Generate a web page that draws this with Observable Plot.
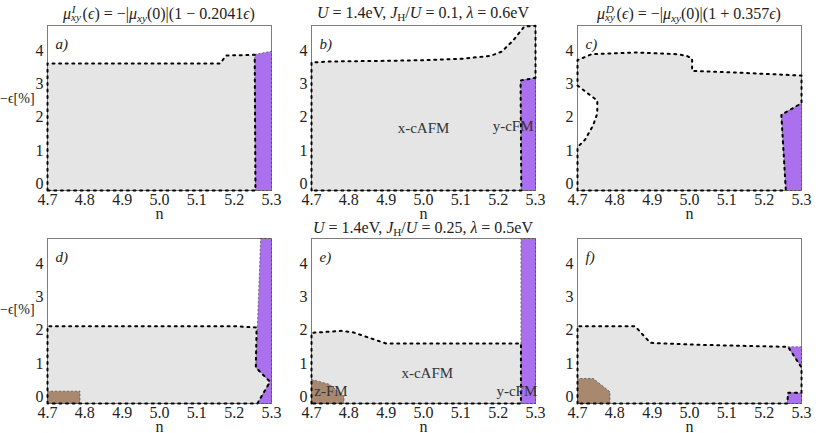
<!DOCTYPE html>
<html><head><meta charset="utf-8">
<script src="https://cdn.jsdelivr.net/npm/d3@7"></script>
<script src="https://cdn.jsdelivr.net/npm/@observablehq/plot@0.6"></script>
<style>
body{margin:0;background:#fff;}
#chart{position:relative;width:830px;height:433px;overflow:hidden;font-family:"Liberation Serif",serif;color:#222;}
.panel{position:absolute;}
.title{position:absolute;font-size:16px;white-space:nowrap;transform:translateX(-50%);line-height:1;}
.ss{display:inline-block;position:relative;width:0.72em;height:0.7em;}
.ss .up{position:absolute;left:0.05em;top:-0.38em;font-size:0.7em;line-height:1;font-style:italic;}
.ss .dn{position:absolute;left:0;top:0.36em;font-size:0.7em;line-height:1;font-style:italic;}
.sb{font-size:0.7em;vertical-align:-0.3em;line-height:0;font-style:italic;}
.ylab{position:absolute;left:0;font-size:14px;white-space:nowrap;line-height:1;}
.h{font-size:0.7em;vertical-align:-0.3em;line-height:0;}
</style></head><body><div id="chart"></div>
<script>
// ---- axes ----
const nTicks = [4.7, 4.8, 4.9, 5.0, 5.1, 5.2, 5.3];
const epsTicks = [0, 1, 2, 3, 4];
const nRange = [4.7, 5.3];
const epsRange = [-0.2, 4.75];

// ---- panel a) ----
const aGray = [[4.7,-0.2],[4.7,3.61],[5.163,3.61],[5.178,3.85],[5.255,3.87],[5.257,-0.2]];
const aPurple = [[5.255,3.88],[5.3,3.98],[5.3,-0.2],[5.257,-0.2]];
// ---- panel b) ----
const bGray = [[4.7,-0.2],[4.7,3.64],[4.75,3.67],[4.9,3.69],[5.0,3.71],[5.1,3.75],[5.18,3.84],[5.21,3.97],[5.24,4.3],[5.27,4.72],[5.3,4.74],[5.3,3.18],[5.26,3.1],[5.262,-0.2]];
const bPurple = [[5.26,3.1],[5.3,3.18],[5.3,-0.2],[5.262,-0.2]];
const bNames = [[5.0,1.68,"x-cAFM"],[5.24,1.72,"y-cFM"]];
// ---- panel c) ----
const cGray = [[4.7,-0.2],[4.7,1.1],[4.72,1.32],[4.742,1.76],[4.753,2.11],[4.753,2.5],[4.729,2.7],[4.7,2.95],[4.7,3.71],[4.738,3.89],[4.857,3.94],[4.966,3.89],[4.993,3.84],[5.007,3.75],[5.007,3.39],[5.1,3.35],[5.2,3.3],[5.3,3.25],[5.3,2.42],[5.246,2.07],[5.258,-0.2]];
const cPurple = [[5.246,2.07],[5.3,2.42],[5.3,-0.2],[5.258,-0.2]];
// ---- panel d) ----
const dGray = [[4.7,-0.2],[4.7,2.12],[5.2,2.12],[5.26,2.08],[5.258,0.88],[5.296,0.45],[5.262,-0.2]];
const dPurple = [[5.271,4.75],[5.3,4.75],[5.3,-0.2],[5.262,-0.2],[5.296,0.45],[5.258,0.88]];
const dBrown = [[4.7,-0.2],[4.7,0.17],[4.787,0.17],[4.787,-0.2]];
// ---- panel e) ----
const eGray = [[4.7,-0.2],[4.7,1.92],[4.78,1.98],[4.81,1.94],[4.9,1.6],[5.261,1.6],[5.261,-0.2]];
const ePurple = [[5.261,-0.2],[5.261,4.75],[5.3,4.75],[5.3,-0.2]];
const eBrown = [[4.7,-0.2],[4.7,0.52],[4.747,0.38],[4.787,0.02],[4.787,-0.2]];
const eNames = [[5.01,0.72,"x-cAFM"],[4.752,0.17,"z-FM"],[5.25,0.17,"y-cFM"]];
// ---- panel f) ----
const fGray = [[4.7,-0.2],[4.7,2.12],[4.854,2.12],[4.895,1.62],[5.0,1.57],[5.1,1.54],[5.264,1.5],[5.3,0.88],[5.3,0.12],[5.264,0.12],[5.262,-0.2]];
const fPurpleTop = [[5.264,1.5],[5.3,1.5],[5.3,0.88]];
const fPurpleBottom = [[5.264,0.12],[5.3,0.12],[5.3,-0.2],[5.262,-0.2]];
const fBrown = [[4.7,-0.2],[4.7,0.55],[4.742,0.55],[4.787,0.15],[4.787,-0.2]];

const letters = ["a)","b)","c)","d)","e)","f)"];
const xLabel = "n";
const yLabelText = "\u2212\u03F5[%]";

// ---- styling ----
const GRAY = "#e5e5e5", PURPLE = "#ab70ee", BROWN = "#a8896f";
const W = 224, H = 165;
const colLeft = [47, 311, 577];
const rowTop = [25, 238];
const ML = 40, MR = 6, MT = 6, MB = 30;

const closed = p => p.concat([p[0]]);

function panel(regions, names, letter) {
  const marks = [];
  for (const r of regions) {
    marks.push(Plot.line(r.pts, {x: d => d[0], y: d => d[1], fill: r.color, stroke: "none"}));
  }
  marks.push(Plot.frame({stroke: "#7d7d7d", strokeWidth: 1}));
  for (const r of regions) {
    if (r.color !== GRAY) marks.push(Plot.line(closed(r.pts), {x: d => d[0], y: d => d[1], stroke: "#333", strokeWidth: 1, strokeOpacity: 0.55, strokeDasharray: "1.5,2.5"}));
  }
  for (const r of regions) {
    if (r.color === GRAY) marks.push(Plot.line(closed(r.pts), {x: d => d[0], y: d => d[1], stroke: "#000", strokeWidth: 2, strokeDasharray: "2,4.6"}));
  }
  if (names) marks.push(Plot.text(names, {x: d => d[0], y: d => d[1], text: d => d[2], fontSize: 15, fill: "#333", fontFamily: "Liberation Serif"}));
  marks.push(Plot.text([letter], {frameAnchor: "top-left", dx: 8, dy: 13, text: d => d, fontSize: 15, fontStyle: "italic", fill: "#222", fontFamily: "Liberation Serif"}));
  return Plot.plot({
    width: W + ML + MR, height: H + MT + MB,
    marginLeft: ML, marginRight: MR, marginTop: MT, marginBottom: MB,
    style: {background: "transparent", fontFamily: "Liberation Serif", fontSize: "16px", color: "#222", overflow: "visible"},
    x: {domain: nRange, ticks: nTicks, tickFormat: d => d.toFixed(1), tickSize: 0, tickPadding: 3, label: xLabel, labelAnchor: "center", labelOffset: 28, labelArrow: "none"},
    y: {domain: epsRange, ticks: epsTicks, tickFormat: d => String(d), tickSize: 0, tickPadding: 4, label: null},
    marks
  });
}

const panels = [
  [[{pts: aGray, color: GRAY}, {pts: aPurple, color: PURPLE}], null],
  [[{pts: bGray, color: GRAY}, {pts: bPurple, color: PURPLE}], bNames],
  [[{pts: cGray, color: GRAY}, {pts: cPurple, color: PURPLE}], null],
  [[{pts: dGray, color: GRAY}, {pts: dPurple, color: PURPLE}, {pts: dBrown, color: BROWN}], null],
  [[{pts: eGray, color: GRAY}, {pts: ePurple, color: PURPLE}, {pts: eBrown, color: BROWN}], eNames],
  [[{pts: fGray, color: GRAY}, {pts: fPurpleTop, color: PURPLE}, {pts: fPurpleBottom, color: PURPLE}, {pts: fBrown, color: BROWN}], null]
];

const chart = document.getElementById("chart");
panels.forEach(([regions, names], i) => {
  const row = Math.floor(i / 3), col = i % 3;
  const div = document.createElement("div");
  div.className = "panel";
  div.style.left = (colLeft[col] - ML) + "px";
  div.style.top = (rowTop[row] - MT) + "px";
  div.style.width = (W + ML + MR) + "px";
  div.appendChild(panel(regions, names, letters[i]));
  chart.appendChild(div);
});

// titles
const muSS = (s) => `<i>μ</i><span class="ss"><span class="up">${s}</span><span class="dn">xy</span></span>`;
const titles = [
  {x: 159, y: 6, html: `${muSS("I")}(<i>ϵ</i>) = −|<i>μ</i><span class="sb">xy</span>(0)|(1 − 0.2041<i>ϵ</i>)`},
  {x: 423, y: 5, html: `<i>U</i> = 1.4eV, <i>J</i><span class="h">H</span>/<i>U</i> = 0.1, <i>λ</i> = 0.6eV`},
  {x: 689, y: 6, html: `${muSS("D")}(<i>ϵ</i>) = −|<i>μ</i><span class="sb">xy</span>(0)|(1 + 0.357<i>ϵ</i>)`},
  {x: 423, y: 220, html: `<i>U</i> = 1.4eV, <i>J</i><span class="h">H</span>/<i>U</i> = 0.25, <i>λ</i> = 0.5eV`}
];
for (const t of titles) {
  const d = document.createElement("div");
  d.className = "title";
  d.style.left = t.x + "px";
  d.style.top = t.y + "px";
  d.innerHTML = t.html;
  chart.appendChild(d);
}
for (const y of [92, 303]) {
  const d = document.createElement("div");
  d.className = "ylab";
  d.style.top = y + "px";
  d.textContent = yLabelText;
  chart.appendChild(d);
}
</script></body></html>
